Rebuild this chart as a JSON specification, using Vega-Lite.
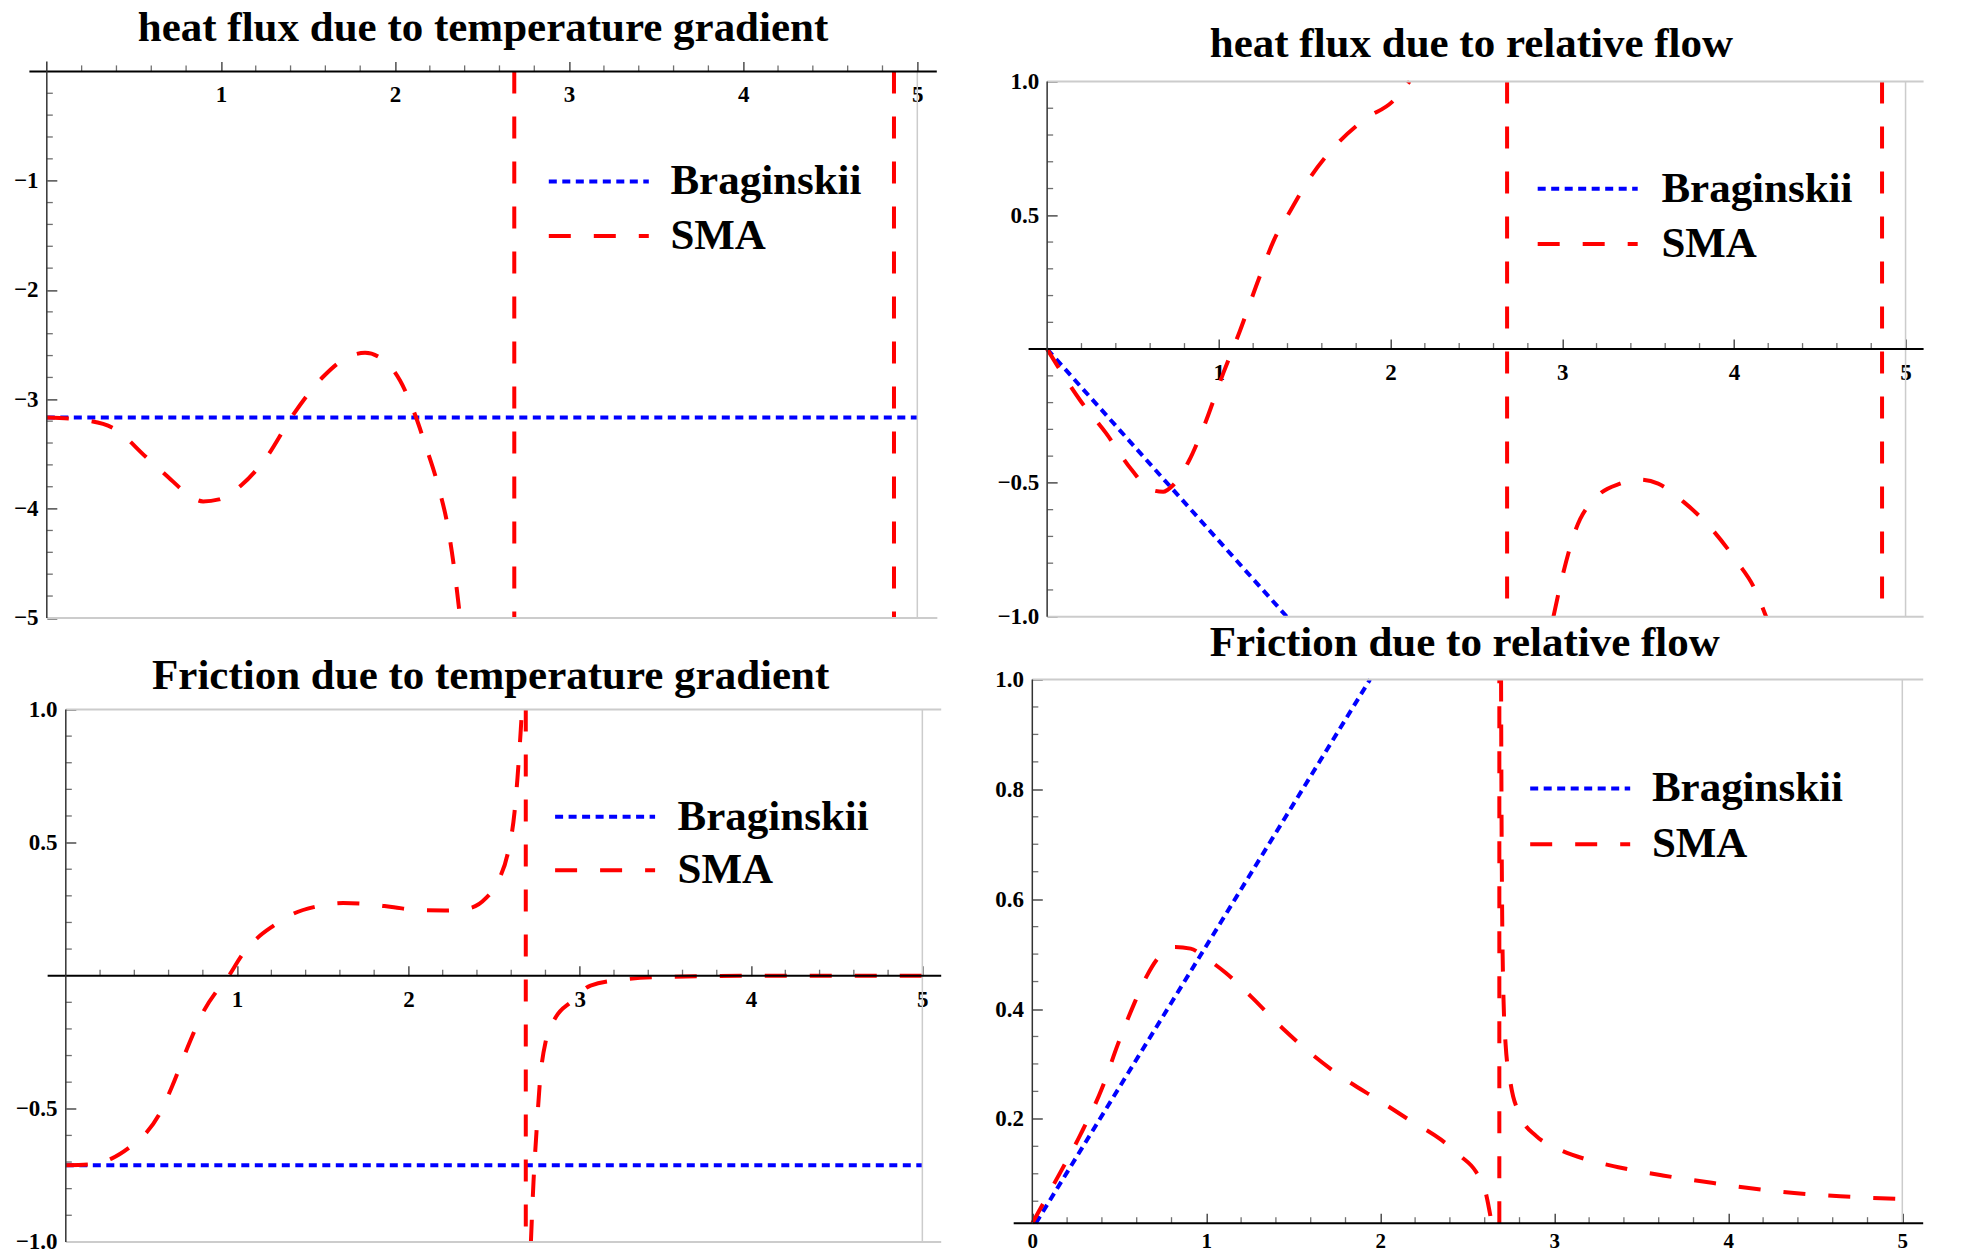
{
  "$schema": "https://vega.github.io/schema/vega-lite/v6.json",
  "background": "white",
  "padding": {"left": 13.4, "top": 6.4, "right": 0, "bottom": 0},
  "config": {
    "view": {"stroke": null},
    "axis": {"domain": false, "grid": false, "labelFont": "Liberation Serif", "labelFontSize": 23, "labelFontWeight": "bold", "labelColor": "#000", "labelOverlap": false, "labelFlush": false, "labelBound": false, "tickColor": "#333", "tickWidth": 1.3, "tickSize": -10, "titleFont": "Liberation Serif", "titleFontSize": 44, "titleFontWeight": "bold", "titleFontStyle": "italic", "titleColor": "#000", "titlePadding": 0},
    "tick": {"thickness": 1.3, "color": "#333"},
    "title": {"font": "Liberation Serif", "fontSize": 43, "fontWeight": "bold", "color": "#000", "anchor": "middle", "frame": "group", "baseline": "alphabetic"},
    "legend": {"orient": "none", "symbolType": "M-2,0H2", "symbolSize": 2500, "symbolStrokeWidth": 4, "labelFont": "Liberation Serif", "labelFontSize": 43, "labelFontWeight": "bold", "labelColor": "#000", "padding": 0, "labelLimit": 0}
  },
  "datasets": {
    "xminor": [{"v": 0.2}, {"v": 0.4}, {"v": 0.6}, {"v": 0.8}, {"v": 1.2}, {"v": 1.4}, {"v": 1.6}, {"v": 1.8}, {"v": 2.2}, {"v": 2.4}, {"v": 2.6}, {"v": 2.8}, {"v": 3.2}, {"v": 3.4}, {"v": 3.6}, {"v": 3.8}, {"v": 4.2}, {"v": 4.4}, {"v": 4.6}, {"v": 4.8}],
    "yminor_tl": [{"v": -4.8}, {"v": -4.6}, {"v": -4.4}, {"v": -4.2}, {"v": -3.8}, {"v": -3.6}, {"v": -3.4}, {"v": -3.2}, {"v": -2.8}, {"v": -2.6}, {"v": -2.4}, {"v": -2.2}, {"v": -1.8}, {"v": -1.6}, {"v": -1.4}, {"v": -1.2}, {"v": -0.8}, {"v": -0.6}, {"v": -0.4}, {"v": -0.2}],
    "yminor_h": [{"v": -0.9}, {"v": -0.8}, {"v": -0.7}, {"v": -0.6}, {"v": -0.4}, {"v": -0.3}, {"v": -0.2}, {"v": -0.1}, {"v": 0.1}, {"v": 0.2}, {"v": 0.3}, {"v": 0.4}, {"v": 0.6}, {"v": 0.7}, {"v": 0.8}, {"v": 0.9}],
    "yminor_br": [{"v": 0.05}, {"v": 0.1}, {"v": 0.15}, {"v": 0.25}, {"v": 0.3}, {"v": 0.35}, {"v": 0.45}, {"v": 0.5}, {"v": 0.55}, {"v": 0.65}, {"v": 0.7}, {"v": 0.75}, {"v": 0.85}, {"v": 0.9}, {"v": 0.95}],
    "tl": [
      {"x": 0, "y": -3.166, "s": "Braginskii", "g": "b"},
      {"x": 5, "y": -3.166, "s": "Braginskii", "g": "b"},
      {"x": 0, "y": -3.166, "s": "SMA", "g": "a"},
      {"x": 0.242, "y": -3.196, "s": "SMA", "g": "a"},
      {"x": 0.388, "y": -3.269, "s": "SMA", "g": "a"},
      {"x": 0.57, "y": -3.528, "s": "SMA", "g": "a"},
      {"x": 0.698, "y": -3.713, "s": "SMA", "g": "a"},
      {"x": 0.789, "y": -3.842, "s": "SMA", "g": "a"},
      {"x": 0.898, "y": -3.934, "s": "SMA", "g": "a"},
      {"x": 0.989, "y": -3.916, "s": "SMA", "g": "a"},
      {"x": 1.117, "y": -3.787, "s": "SMA", "g": "a"},
      {"x": 1.263, "y": -3.528, "s": "SMA", "g": "a"},
      {"x": 1.408, "y": -3.158, "s": "SMA", "g": "a"},
      {"x": 1.59, "y": -2.789, "s": "SMA", "g": "a"},
      {"x": 1.718, "y": -2.623, "s": "SMA", "g": "a"},
      {"x": 1.828, "y": -2.575, "s": "SMA", "g": "a"},
      {"x": 1.919, "y": -2.623, "s": "SMA", "g": "a"},
      {"x": 2.028, "y": -2.826, "s": "SMA", "g": "a"},
      {"x": 2.119, "y": -3.158, "s": "SMA", "g": "a"},
      {"x": 2.174, "y": -3.417, "s": "SMA", "g": "a"},
      {"x": 2.247, "y": -3.787, "s": "SMA", "g": "a"},
      {"x": 2.302, "y": -4.156, "s": "SMA", "g": "a"},
      {"x": 2.338, "y": -4.525, "s": "SMA", "g": "a"},
      {"x": 2.374, "y": -5.0, "s": "SMA", "g": "a"},
      {"x": 2.685, "y": 0, "s": "SMA", "g": "c"},
      {"x": 2.6851, "y": -5, "s": "SMA", "g": "c"},
      {"x": 4.866, "y": 0, "s": "SMA", "g": "d"},
      {"x": 4.8661, "y": -5, "s": "SMA", "g": "d"}
    ],
    "tr": [
      {"x": 0, "y": 0, "s": "Braginskii", "g": "b"},
      {"x": 1.396, "y": -1.0, "s": "Braginskii", "g": "b"},
      {"x": 0, "y": 0, "s": "SMA", "g": "a"},
      {"x": 0.195, "y": -0.194, "s": "SMA", "g": "a"},
      {"x": 0.343, "y": -0.314, "s": "SMA", "g": "a"},
      {"x": 0.491, "y": -0.45, "s": "SMA", "g": "a"},
      {"x": 0.602, "y": -0.525, "s": "SMA", "g": "a"},
      {"x": 0.676, "y": -0.533, "s": "SMA", "g": "a"},
      {"x": 0.731, "y": -0.51, "s": "SMA", "g": "a"},
      {"x": 0.824, "y": -0.42, "s": "SMA", "g": "a"},
      {"x": 0.916, "y": -0.284, "s": "SMA", "g": "a"},
      {"x": 1.027, "y": -0.088, "s": "SMA", "g": "a"},
      {"x": 1.12, "y": 0.063, "s": "SMA", "g": "a"},
      {"x": 1.231, "y": 0.259, "s": "SMA", "g": "a"},
      {"x": 1.323, "y": 0.41, "s": "SMA", "g": "a"},
      {"x": 1.416, "y": 0.516, "s": "SMA", "g": "a"},
      {"x": 1.527, "y": 0.636, "s": "SMA", "g": "a"},
      {"x": 1.675, "y": 0.757, "s": "SMA", "g": "a"},
      {"x": 1.86, "y": 0.863, "s": "SMA", "g": "a"},
      {"x": 2.008, "y": 0.923, "s": "SMA", "g": "a"},
      {"x": 2.111, "y": 1.0, "s": "SMA", "g": "a"},
      {"x": 2.679, "y": 1.0, "s": "SMA", "g": "c"},
      {"x": 2.6791, "y": -1.0, "s": "SMA", "g": "c"},
      {"x": 2.949, "y": -1.0, "s": "SMA", "g": "d"},
      {"x": 3.004, "y": -0.842, "s": "SMA", "g": "d"},
      {"x": 3.078, "y": -0.676, "s": "SMA", "g": "d"},
      {"x": 3.208, "y": -0.548, "s": "SMA", "g": "d"},
      {"x": 3.337, "y": -0.503, "s": "SMA", "g": "d"},
      {"x": 3.448, "y": -0.488, "s": "SMA", "g": "d"},
      {"x": 3.559, "y": -0.503, "s": "SMA", "g": "d"},
      {"x": 3.707, "y": -0.571, "s": "SMA", "g": "d"},
      {"x": 3.855, "y": -0.661, "s": "SMA", "g": "d"},
      {"x": 4.021, "y": -0.797, "s": "SMA", "g": "d"},
      {"x": 4.114, "y": -0.887, "s": "SMA", "g": "d"},
      {"x": 4.188, "y": -1.0, "s": "SMA", "g": "d"},
      {"x": 4.863, "y": 1.0, "s": "SMA", "g": "e"},
      {"x": 4.8631, "y": -1.0, "s": "SMA", "g": "e"}
    ],
    "bl": [
      {"x": 0, "y": -0.712, "s": "Braginskii", "g": "b"},
      {"x": 5, "y": -0.712, "s": "Braginskii", "g": "b"},
      {"x": 0, "y": -0.712, "s": "SMA", "g": "a"},
      {"x": 0.137, "y": -0.709, "s": "SMA", "g": "a"},
      {"x": 0.267, "y": -0.687, "s": "SMA", "g": "a"},
      {"x": 0.378, "y": -0.642, "s": "SMA", "g": "a"},
      {"x": 0.47, "y": -0.59, "s": "SMA", "g": "a"},
      {"x": 0.544, "y": -0.522, "s": "SMA", "g": "a"},
      {"x": 0.619, "y": -0.418, "s": "SMA", "g": "a"},
      {"x": 0.711, "y": -0.269, "s": "SMA", "g": "a"},
      {"x": 0.804, "y": -0.134, "s": "SMA", "g": "a"},
      {"x": 0.896, "y": -0.045, "s": "SMA", "g": "a"},
      {"x": 0.952, "y": 0.0, "s": "SMA", "g": "a"},
      {"x": 1.026, "y": 0.075, "s": "SMA", "g": "a"},
      {"x": 1.119, "y": 0.142, "s": "SMA", "g": "a"},
      {"x": 1.211, "y": 0.187, "s": "SMA", "g": "a"},
      {"x": 1.322, "y": 0.231, "s": "SMA", "g": "a"},
      {"x": 1.47, "y": 0.261, "s": "SMA", "g": "a"},
      {"x": 1.619, "y": 0.273, "s": "SMA", "g": "a"},
      {"x": 1.767, "y": 0.269, "s": "SMA", "g": "a"},
      {"x": 1.915, "y": 0.257, "s": "SMA", "g": "a"},
      {"x": 2.063, "y": 0.246, "s": "SMA", "g": "a"},
      {"x": 2.211, "y": 0.245, "s": "SMA", "g": "a"},
      {"x": 2.359, "y": 0.254, "s": "SMA", "g": "a"},
      {"x": 2.452, "y": 0.291, "s": "SMA", "g": "a"},
      {"x": 2.526, "y": 0.358, "s": "SMA", "g": "a"},
      {"x": 2.581, "y": 0.463, "s": "SMA", "g": "a"},
      {"x": 2.619, "y": 0.612, "s": "SMA", "g": "a"},
      {"x": 2.637, "y": 0.746, "s": "SMA", "g": "a"},
      {"x": 2.656, "y": 0.925, "s": "SMA", "g": "a"},
      {"x": 2.663, "y": 1.0, "s": "SMA", "g": "a"},
      {"x": 2.685, "y": 1.0, "s": "SMA", "g": "c"},
      {"x": 2.6851, "y": -1.0, "s": "SMA", "g": "c"},
      {"x": 2.715, "y": -1.0, "s": "SMA", "g": "d"},
      {"x": 2.73, "y": -0.776, "s": "SMA", "g": "d"},
      {"x": 2.748, "y": -0.582, "s": "SMA", "g": "d"},
      {"x": 2.767, "y": -0.403, "s": "SMA", "g": "d"},
      {"x": 2.804, "y": -0.239, "s": "SMA", "g": "d"},
      {"x": 2.859, "y": -0.157, "s": "SMA", "g": "d"},
      {"x": 2.952, "y": -0.097, "s": "SMA", "g": "d"},
      {"x": 3.063, "y": -0.037, "s": "SMA", "g": "d"},
      {"x": 3.248, "y": -0.015, "s": "SMA", "g": "d"},
      {"x": 3.507, "y": -0.0045, "s": "SMA", "g": "d"},
      {"x": 4.063, "y": 0, "s": "SMA", "g": "d"},
      {"x": 5.0, "y": 0, "s": "SMA", "g": "d"}
    ],
    "br": [
      {"x": 0.02, "y": 0.01, "s": "Braginskii", "g": "b"},
      {"x": 1.941, "y": 1.0, "s": "Braginskii", "g": "b"},
      {"x": 0, "y": 0.01, "s": "SMA", "g": "a"},
      {"x": 0.127, "y": 0.083, "s": "SMA", "g": "a"},
      {"x": 0.273, "y": 0.169, "s": "SMA", "g": "a"},
      {"x": 0.401, "y": 0.256, "s": "SMA", "g": "a"},
      {"x": 0.492, "y": 0.336, "s": "SMA", "g": "a"},
      {"x": 0.583, "y": 0.408, "s": "SMA", "g": "a"},
      {"x": 0.656, "y": 0.459, "s": "SMA", "g": "a"},
      {"x": 0.728, "y": 0.495, "s": "SMA", "g": "a"},
      {"x": 0.819, "y": 0.513, "s": "SMA", "g": "a"},
      {"x": 0.91, "y": 0.51, "s": "SMA", "g": "a"},
      {"x": 1.001, "y": 0.492, "s": "SMA", "g": "a"},
      {"x": 1.111, "y": 0.466, "s": "SMA", "g": "a"},
      {"x": 1.256, "y": 0.423, "s": "SMA", "g": "a"},
      {"x": 1.438, "y": 0.365, "s": "SMA", "g": "a"},
      {"x": 1.621, "y": 0.314, "s": "SMA", "g": "a"},
      {"x": 1.803, "y": 0.271, "s": "SMA", "g": "a"},
      {"x": 1.985, "y": 0.235, "s": "SMA", "g": "a"},
      {"x": 2.167, "y": 0.198, "s": "SMA", "g": "a"},
      {"x": 2.349, "y": 0.162, "s": "SMA", "g": "a"},
      {"x": 2.458, "y": 0.133, "s": "SMA", "g": "a"},
      {"x": 2.549, "y": 0.104, "s": "SMA", "g": "a"},
      {"x": 2.604, "y": 0.068, "s": "SMA", "g": "a"},
      {"x": 2.64, "y": 0.01, "s": "SMA", "g": "a"},
      {"x": 2.684, "y": 0.01, "s": "SMA", "g": "c"},
      {"x": 2.6841, "y": 1.0, "s": "SMA", "g": "c"},
      {"x": 2.694, "y": 1.0, "s": "SMA", "g": "d"},
      {"x": 2.697, "y": 0.734, "s": "SMA", "g": "d"},
      {"x": 2.706, "y": 0.445, "s": "SMA", "g": "d"},
      {"x": 2.72, "y": 0.336, "s": "SMA", "g": "d"},
      {"x": 2.749, "y": 0.264, "s": "SMA", "g": "d"},
      {"x": 2.804, "y": 0.206, "s": "SMA", "g": "d"},
      {"x": 2.895, "y": 0.169, "s": "SMA", "g": "d"},
      {"x": 3.004, "y": 0.148, "s": "SMA", "g": "d"},
      {"x": 3.186, "y": 0.126, "s": "SMA", "g": "d"},
      {"x": 3.368, "y": 0.112, "s": "SMA", "g": "d"},
      {"x": 3.623, "y": 0.097, "s": "SMA", "g": "d"},
      {"x": 3.915, "y": 0.083, "s": "SMA", "g": "d"},
      {"x": 4.279, "y": 0.068, "s": "SMA", "g": "d"},
      {"x": 4.643, "y": 0.059, "s": "SMA", "g": "d"},
      {"x": 5.0, "y": 0.054, "s": "SMA", "g": "d"}
    ]
  },
  "columns": 2,
  "bounds": "flush",
  "align": "none",
  "spacing": {"row": 61.1, "column": 57.3},
  "resolve": {"scale": {"color": "independent", "strokeDash": "independent"}, "legend": {"color": "independent", "strokeDash": "independent"}},
  "concat": [
    {
      "width": 926.7, "height": 546.5,
      "title": {"text": "heat flux due to temperature gradient", "dx": -9.7, "offset": 11},
      "layer": [
        {
          "data": {"name": "tl"},
          "mark": {"type": "line", "strokeWidth": 4, "interpolate": "monotone"},
          "encoding": {
            "x": {"field": "x", "type": "quantitative", "scale": {"domain": [-0.1, 5.2228], "zero": false, "nice": false},
              "axis": {"orient": "bottom", "offset": -546.5, "values": [1, 2, 3, 4, 5], "format": "d", "tickSize": -10,
                "labelPadding": 22.6, "title": "x", "titleX": 927.4, "titleY": 11, "titleAlign": "left", "titleBaseline": "alphabetic", "titleAngle": 0}},
            "y": {"field": "y", "type": "quantitative", "scale": {"domain": [-5, 0], "zero": false, "nice": false},
              "axis": {"orient": "left", "offset": -17.41, "values": [-5, -4, -3, -2, -1], "format": "d", "tickSize": -10,
                "labelPadding": 18.7, "title": null}},
            "detail": {"field": "g"},
            "color": {"field": "s", "type": "nominal", "scale": {"domain": ["Braginskii", "SMA"], "range": ["#0000ff", "#ff0000"]}, "legend": {"title": null, "legendX": 542.4, "legendY": 83, "labelOffset": 44.6, "rowPadding": 5.7}},
            "strokeDash": {"field": "s", "type": "nominal", "scale": {"domain": ["Braginskii", "SMA"], "range": [[8, 5.5], [22, 23]]}, "legend": {"title": null, "legendX": 542.4, "legendY": 83, "labelOffset": 44.6, "rowPadding": 5.7}}
          }
        },
        {"data": {"name": "xminor"}, "mark": {"type": "tick", "orient": "vertical", "size": 6, "yOffset": -3}, "encoding": {"x": {"field": "v", "type": "quantitative", "axis": {"title": null}}, "y": {"datum": 0}}},
        {"data": {"name": "yminor_tl"}, "mark": {"type": "tick", "orient": "horizontal", "size": 6, "xOffset": 3}, "encoding": {"y": {"field": "v", "type": "quantitative", "axis": {"title": null}}, "x": {"datum": 0}}},
        {"data": {"values": [{}]}, "mark": {"type": "rule", "color": "#cccccc", "strokeWidth": 2}, "encoding": {"x": {"datum": 0}, "x2": {"datum": 5.115}, "y": {"datum": -5}}},
        {"data": {"values": [{}]}, "mark": {"type": "rule", "color": "#cccccc", "strokeWidth": 1.5}, "encoding": {"x": {"datum": 5}, "y": {"datum": -5}, "y2": {"datum": 0}}},
        {"data": {"values": [{}]}, "mark": {"type": "rule", "color": "#000", "strokeWidth": 2}, "encoding": {"x": {"datum": -0.1}, "x2": {"datum": 5.112}, "y": {"datum": 0}}},
        {"data": {"values": [{}]}, "mark": {"type": "rule", "color": "#333", "strokeWidth": 1.5}, "encoding": {"x": {"datum": 0}, "y": {"datum": -5}, "y2": {"datum": 0.0915}}}
      ]
    },
    {
      "width": 909.9, "height": 545.3,
      "title": {"text": "heat flux due to relative flow", "dx": 2.8, "offset": 4},
      "layer": [
        {
          "data": {"name": "tr"},
          "mark": {"type": "line", "strokeWidth": 4, "interpolate": "monotone"},
          "encoding": {
            "x": {"field": "x", "type": "quantitative", "scale": {"domain": [-0.1948, 5.105], "zero": false, "nice": false},
              "axis": {"orient": "bottom", "offset": -267.6, "values": [1, 2, 3, 4, 5], "format": "d", "tickSize": -10,
                "labelPadding": 22.6, "title": "x", "titleX": 929.7, "titleY": 11.6, "titleAlign": "left", "titleBaseline": "alphabetic", "titleAngle": 0}},
            "y": {"field": "y", "type": "quantitative", "scale": {"domain": [-1, 1.0377], "zero": false, "nice": false},
              "axis": {"orient": "left", "offset": -33.44, "values": [-1, -0.5, 0.5, 1], "format": ".1f", "tickSize": -10,
                "labelPadding": 18.4, "title": null}},
            "detail": {"field": "g"},
            "color": {"field": "s", "type": "nominal", "scale": {"domain": ["Braginskii", "SMA"], "range": ["#0000ff", "#ff0000"]}, "legend": {"title": null, "legendX": 547, "legendY": 90.3, "labelOffset": 46.7, "rowPadding": 6.2}},
            "strokeDash": {"field": "s", "type": "nominal", "scale": {"domain": ["Braginskii", "SMA"], "range": [[8, 5.5], [22, 23]]}, "legend": {"title": null, "legendX": 547, "legendY": 90.3, "labelOffset": 46.7, "rowPadding": 6.2}}
          }
        },
        {"data": {"name": "xminor"}, "mark": {"type": "tick", "orient": "vertical", "size": 6, "yOffset": -3}, "encoding": {"x": {"field": "v", "type": "quantitative", "axis": {"title": null}}, "y": {"datum": 0}}},
        {"data": {"name": "yminor_h"}, "mark": {"type": "tick", "orient": "horizontal", "size": 6, "xOffset": 3}, "encoding": {"y": {"field": "v", "type": "quantitative", "axis": {"title": null}}, "x": {"datum": 0}}},
        {"data": {"values": [{}]}, "mark": {"type": "rule", "color": "#cccccc", "strokeWidth": 2}, "encoding": {"x": {"datum": 0}, "x2": {"datum": 5.105}, "y": {"datum": 1}}},
        {"data": {"values": [{}]}, "mark": {"type": "rule", "color": "#cccccc", "strokeWidth": 2}, "encoding": {"x": {"datum": 0}, "x2": {"datum": 5.105}, "y": {"datum": -1}}},
        {"data": {"values": [{}]}, "mark": {"type": "rule", "color": "#cccccc", "strokeWidth": 1.5}, "encoding": {"x": {"datum": 5}, "y": {"datum": -1}, "y2": {"datum": 1}}},
        {"data": {"values": [{}]}, "mark": {"type": "rule", "color": "#000", "strokeWidth": 2}, "encoding": {"x": {"datum": -0.108}, "x2": {"datum": 5.105}, "y": {"datum": 0}}},
        {"data": {"values": [{}]}, "mark": {"type": "rule", "color": "#333", "strokeWidth": 1.5}, "encoding": {"x": {"datum": 0}, "y": {"datum": -1}, "y2": {"datum": 1}}}
      ]
    },
    {
      "width": 911.8, "height": 562.4,
      "title": {"text": "Friction due to temperature gradient", "dx": 5.4, "offset": -18.1},
      "layer": [
        {
          "data": {"name": "bl"},
          "mark": {"type": "line", "strokeWidth": 4, "interpolate": "monotone"},
          "encoding": {
            "x": {"field": "x", "type": "quantitative", "scale": {"domain": [-0.2125, 5.11], "zero": false, "nice": false},
              "axis": {"orient": "bottom", "offset": -266.2, "values": [1, 2, 3, 4, 5], "format": "d", "tickSize": -10,
                "labelPadding": 22.6, "title": "x", "titleX": 933.7, "titleY": 12, "titleAlign": "left", "titleBaseline": "alphabetic", "titleAngle": 0}},
            "y": {"field": "y", "type": "quantitative", "scale": {"domain": [-1, 1.1127], "zero": false, "nice": false},
              "axis": {"orient": "left", "offset": -36.4, "values": [-1, -0.5, 0.5, 1], "format": ".1f", "tickSize": -10,
                "labelPadding": 18.7, "title": null}},
            "detail": {"field": "g"},
            "color": {"field": "s", "type": "nominal", "scale": {"domain": ["Braginskii", "SMA"], "range": ["#0000ff", "#ff0000"]}, "legend": {"title": null, "legendX": 548.7, "legendY": 110.2, "labelOffset": 45.5, "rowPadding": 4.6}},
            "strokeDash": {"field": "s", "type": "nominal", "scale": {"domain": ["Braginskii", "SMA"], "range": [[8, 5.5], [22, 23]]}, "legend": {"title": null, "legendX": 548.7, "legendY": 110.2, "labelOffset": 45.5, "rowPadding": 4.6}}
          }
        },
        {"data": {"name": "xminor"}, "mark": {"type": "tick", "orient": "vertical", "size": 6, "yOffset": -3}, "encoding": {"x": {"field": "v", "type": "quantitative", "axis": {"title": null}}, "y": {"datum": 0}}},
        {"data": {"name": "yminor_h"}, "mark": {"type": "tick", "orient": "horizontal", "size": 6, "xOffset": 3}, "encoding": {"y": {"field": "v", "type": "quantitative", "axis": {"title": null}}, "x": {"datum": 0}}},
        {"data": {"values": [{}]}, "mark": {"type": "rule", "color": "#cccccc", "strokeWidth": 2}, "encoding": {"x": {"datum": 0}, "x2": {"datum": 5.11}, "y": {"datum": 1}}},
        {"data": {"values": [{}]}, "mark": {"type": "rule", "color": "#cccccc", "strokeWidth": 2}, "encoding": {"x": {"datum": 0}, "x2": {"datum": 5.11}, "y": {"datum": -1}}},
        {"data": {"values": [{}]}, "mark": {"type": "rule", "color": "#cccccc", "strokeWidth": 1.5}, "encoding": {"x": {"datum": 5}, "y": {"datum": -1}, "y2": {"datum": 1}}},
        {"data": {"values": [{}]}, "mark": {"type": "rule", "color": "#000", "strokeWidth": 2}, "encoding": {"x": {"datum": -0.106}, "x2": {"datum": 5.11}, "y": {"datum": 0}}},
        {"data": {"values": [{}]}, "mark": {"type": "rule", "color": "#333", "strokeWidth": 1.5}, "encoding": {"x": {"datum": 0}, "y": {"datum": -1}, "y2": {"datum": 1}}}
      ]
    },
    {
      "width": 909.5, "height": 543.7,
      "title": {"text": "Friction due to relative flow", "dx": -3.7, "offset": 3.2},
      "layer": [
        {
          "data": {"name": "br"},
          "mark": {"type": "line", "strokeWidth": 4, "interpolate": "monotone"},
          "encoding": {
            "x": {"field": "x", "type": "quantitative", "scale": {"domain": [-0.107, 5.12], "zero": false, "nice": false},
              "axis": {"orient": "bottom", "offset": 0, "values": [0, 1, 2, 3, 4, 5], "format": "d", "tickSize": -10,
                "labelPadding": 17, "labelFontSize": 21, "title": "x", "titleX": 931.2, "titleY": 13, "titleAlign": "left", "titleBaseline": "alphabetic", "titleAngle": 0}},
            "y": {"field": "y", "type": "quantitative", "scale": {"domain": [0.01, 1], "zero": false, "nice": false},
              "axis": {"orient": "left", "offset": -18.6, "values": [0.2, 0.4, 0.6, 0.8, 1], "format": ".1f", "tickSize": -10,
                "labelPadding": 18.7, "title": null}},
            "detail": {"field": "g"},
            "color": {"field": "s", "type": "nominal", "scale": {"domain": ["Braginskii", "SMA"], "range": ["#0000ff", "#ff0000"]}, "legend": {"title": null, "legendX": 539.5, "legendY": 82, "labelOffset": 44.7, "rowPadding": 6.7}},
            "strokeDash": {"field": "s", "type": "nominal", "scale": {"domain": ["Braginskii", "SMA"], "range": [[8, 5.5], [22, 23]]}, "legend": {"title": null, "legendX": 539.5, "legendY": 82, "labelOffset": 44.7, "rowPadding": 6.7}}
          }
        },
        {"data": {"name": "xminor"}, "mark": {"type": "tick", "orient": "vertical", "size": 6, "yOffset": -3}, "encoding": {"x": {"field": "v", "type": "quantitative", "axis": {"title": null}}, "y": {"datum": 0.01}}},
        {"data": {"name": "yminor_br"}, "mark": {"type": "tick", "orient": "horizontal", "size": 6, "xOffset": 3}, "encoding": {"y": {"field": "v", "type": "quantitative", "axis": {"title": null}}, "x": {"datum": 0}}},
        {"data": {"values": [{}]}, "mark": {"type": "rule", "color": "#cccccc", "strokeWidth": 2}, "encoding": {"x": {"datum": 0}, "x2": {"datum": 5.12}, "y": {"datum": 1}}},
        {"data": {"values": [{}]}, "mark": {"type": "rule", "color": "#cccccc", "strokeWidth": 1.5}, "encoding": {"x": {"datum": 5}, "y": {"datum": 0.01}, "y2": {"datum": 1}}},
        {"data": {"values": [{}]}, "mark": {"type": "rule", "color": "#000", "strokeWidth": 2}, "encoding": {"x": {"datum": -0.107}, "x2": {"datum": 5.12}, "y": {"datum": 0.01}}},
        {"data": {"values": [{}]}, "mark": {"type": "rule", "color": "#333", "strokeWidth": 1.5}, "encoding": {"x": {"datum": 0}, "y": {"datum": 0.01}, "y2": {"datum": 1}}}
      ]
    }
  ]
}
